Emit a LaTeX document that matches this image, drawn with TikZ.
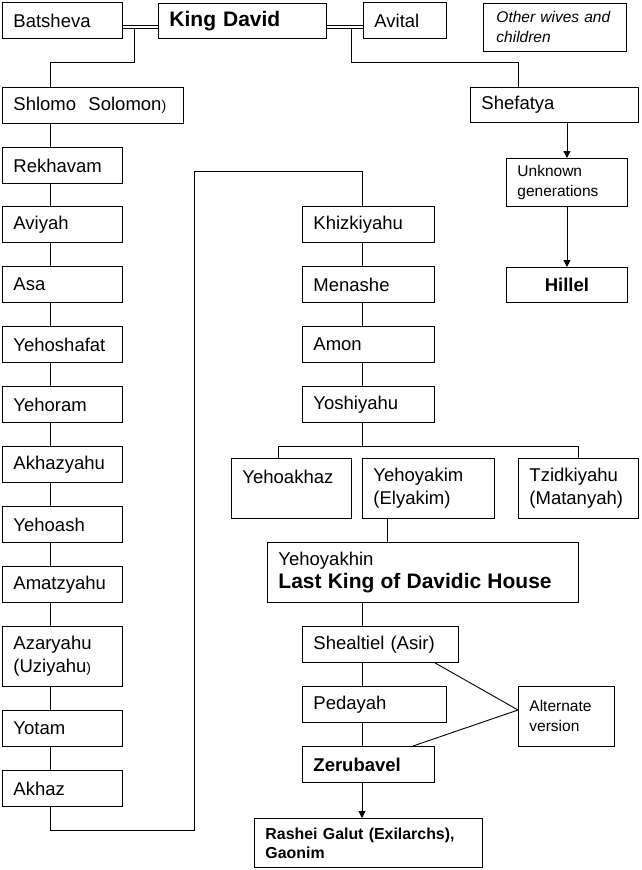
\documentclass[tikz,border=0pt]{standalone}
\usepackage{fontspec}
\setmainfont{Liberation Sans}
\usetikzlibrary{arrows.meta}

\tikzset{
  box/.style={draw, line width=0.9pt, anchor=north west, inner xsep=11pt, inner ysep=0pt, align=left, font=\fontsize{18.5}{23.5}\selectfont},
  dims/.style 2 args={minimum width=#1pt, text width=#1pt-22pt, minimum height=#2pt},
  note/.style={font=\fontsize{15.5}{20}\selectfont},
  heavy/.style={font=\fontsize{21}{25}\selectfont\bfseries},
  conn/.style={line width=0.9pt},
  marriage/.style={double, double distance=1.8pt, line width=0.9pt},
  arr/.style={conn, -{Triangle[length=7pt,width=7pt]}},
}

\begin{document}
\begin{tikzpicture}[x=1pt,y=1pt,yscale=-1]
        \useasboundingbox (0,0) rectangle (642,870);

        % Top row
        \node [box, dims={120}{36}] (batsheva) at (2,2) {Batsheva};
        \node [box, heavy, dims={168}{35}] (david) at (158,3) {King David};
        \node [box, dims={83}{36}] (avital) at (363,2) {Avital};
        \node [box, note, dims={143}{48}, inner xsep=13pt, text width=117pt] (others) at (483,3) {\itshape Other wives and children};

        % Shefatya line
        \node [box, dims={168}{35}] (shefatya) at (470,87) {Shefatya};
        \node [box, note, dims={121}{48}] (unknown) at (506,158) {Unknown generations};
        \node [box, dims={121}{35}, align=center, font=\fontsize{18.5}{23.5}\selectfont\bfseries] (hillel) at (506,267) {Hillel};

        % Left column
        \node [box, dims={181}{36}] (shlomo) at (2,87) {Shlomo\ \ Solomon{\fontsize{14}{14}\selectfont )}};
        \node [box, dims={120}{36}] (rekhavam) at (2,147) {Rekhavam};
        \node [box, dims={120}{36}] (aviyah) at (2,206) {Aviyah};
        \node [box, dims={120}{36}] (asa) at (2,266) {Asa};
        \node [box, dims={120}{36}] (yehoshafat) at (2,326) {Yehoshafat};
        \node [box, dims={120}{36}] (yehoram) at (2,386) {Yehoram};
        \node [box, dims={120}{36}] (akhazyahu) at (2,446) {Akhazyahu};
        \node [box, dims={120}{36}] (yehoash) at (2,506) {Yehoash};
        \node [box, dims={120}{36}] (amatzyahu) at (2,566) {Amatzyahu};
        \node [box, dims={120}{60}] (azaryahu) at (2,626) {Azaryahu\\(Uziyahu{\fontsize{14}{14}\selectfont )}};
        \node [box, dims={120}{36}] (yotam) at (2,710) {Yotam};
        \node [box, dims={120}{36}] (akhaz) at (2,770) {Akhaz};

        % Right column
        \node [box, dims={132}{36}] (khizkiyahu) at (302,206) {Khizkiyahu};
        \node [box, dims={132}{36}] (menashe) at (302,266) {Menashe};
        \node [box, dims={132}{36}] (amon) at (302,326) {Amon};
        \node [box, dims={132}{36}] (yoshiyahu) at (302,386) {Yoshiyahu};
        \node [box, dims={120}{60}] (yehoakhaz) at (231,458) {Yehoakhaz\\\mbox{}};
        \node [box, dims={132}{60}] (yehoyakim) at (362,458) {Yehoyakim\\(Elyakim)};
        \node [box, dims={120}{60}] (tzidkiyahu) at (518,458) {Tzidkiyahu\\(Matanyah)};
        \node [box, dims={311}{60}] (yehoyakhin) at (267,542) {Yehoyakhin\\{\fontsize{21}{25}\selectfont\bfseries Last King of Davidic House}};
        \node [box, dims={156}{36}] (shealtiel) at (302,626) {Shealtiel (Asir)};
        \node [box, dims={144}{36}] (pedayah) at (302,686) {Pedayah};
        \node [box, dims={132}{36}, font=\fontsize{18.5}{23.5}\selectfont\bfseries] (zerubavel) at (302,746) {Zerubavel};
        \node [box, note, dims={96}{60}] (alternate) at (518,686) {Alternate version};
        \node [box, dims={228}{49}, font=\fontsize{15.9}{19}\selectfont\bfseries] (rashei) at (254,818) {Rashei Galut (Exilarchs),\\Gaonim};

        % Turning points
        \coordinate (colL) at (50,0);
        \coordinate (colM) at (387,0);
        \coordinate (colR) at (362,0);
        \coordinate (wedA) at (134,26.7);
        \coordinate (wedB) at (351,26.7);
        \coordinate (forkA) at (50,62);
        \coordinate (forkB) at (518,62);
        \coordinate (turnA) at (194,830);
        \coordinate (turnB) at (194,171);
        \coordinate (barL) at (278,446);
        \coordinate (altA) at (435,0);
        \coordinate (altB) at (413,0);
        \coordinate (altpt) at (518,710);

        % Lines
        \draw [conn] (wedA) |- (forkA) -- (forkA |- shlomo.north);
        \draw [conn] (wedB) |- (forkB) -- (forkB |- shefatya.north);
        \draw [marriage] (batsheva.east |- wedA) -- (david.west |- wedA);
        \draw [marriage] (david.east |- wedB) -- (avital.west |- wedB);

        \foreach \a/\b in {shlomo/rekhavam, rekhavam/aviyah, aviyah/asa, asa/yehoshafat, yehoshafat/yehoram, yehoram/akhazyahu, akhazyahu/yehoash, yehoash/amatzyahu, amatzyahu/azaryahu, azaryahu/yotam, yotam/akhaz}
          \draw [conn] (\a.south -| colL) -- (\b.north -| colL);
        \draw [conn] (akhaz.south -| colL) |- (turnA) -- (turnB) -| (khizkiyahu.north -| colR);

        \foreach \a/\b in {khizkiyahu/menashe, menashe/amon, amon/yoshiyahu, yehoyakhin/shealtiel, shealtiel/pedayah, pedayah/zerubavel}
          \draw [conn] (\a.south -| colR) -- (\b.north -| colR);
        \draw [conn] (yoshiyahu.south -| colR) -- (barL -| colR);
        \draw [conn] (barL |- yehoakhaz.north) -- (barL) -| (tzidkiyahu.north);
        \draw [conn] (yehoyakim.south -| colM) -- (yehoyakhin.north -| colM);

        \draw [conn] (shealtiel.south -| altA) -- (altpt) -- (zerubavel.north -| altB);

        \draw [arr] (zerubavel.south -| colR) -- (rashei.north -| colR);
        \draw [arr] (shefatya.south -| unknown.north) -- (unknown.north);
        \draw [arr] (unknown.south) -- (hillel.north);

\end{tikzpicture}
\end{document}
